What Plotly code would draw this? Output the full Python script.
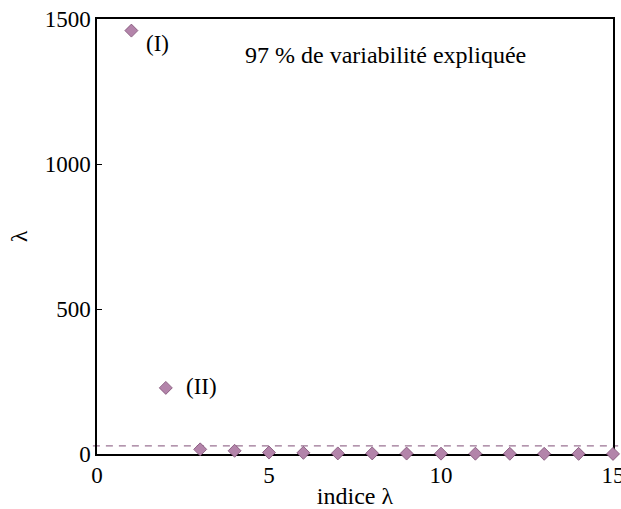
import plotly.graph_objects as go

# Eigenvalue index and eigenvalues
indices = list(range(1, 16))
eigenvalues = [1460, 228, 16, 11, 5, 4, 2, 2, 1.5, 1.2, 1, 0.8, 0.7, 0.5, 0.3]
threshold = 28

marker_fill = "#b384aa"
marker_edge = "#7d4f74"
serif = "Liberation Serif"

fig = go.Figure()

# Kaiser-style cut-off line
fig.add_shape(type="line", xref="paper", yref="y",
              x0=-0.008, x1=1.01, y0=threshold, y1=threshold,
              line=dict(color="#9a7393", width=1.2, dash="7px,6px"), layer="below")

fig.add_trace(go.Scatter(
    x=indices, y=eigenvalues, mode="markers",
    marker=dict(symbol="diamond", size=10, color=marker_fill,
                line=dict(color=marker_edge, width=0.8)),
    cliponaxis=False, showlegend=False,
))

fig.add_annotation(x=indices[0], y=eigenvalues[0], text="(I)", showarrow=False,
                   xanchor="left", yanchor="middle", xshift=13, yshift=-13,
                   font=dict(family=serif, size=23, color="black"))
fig.add_annotation(x=indices[1], y=eigenvalues[1], text="(II)", showarrow=False,
                   xanchor="left", yanchor="middle", xshift=18, yshift=1,
                   font=dict(family=serif, size=23, color="black"))
fig.add_annotation(x=0.56, y=0.917, xref="paper", yref="paper",
                   text="97 % de variabilité expliquée", showarrow=False,
                   xanchor="center", yanchor="middle",
                   font=dict(family=serif, size=24, color="black"))

axis_common = dict(showgrid=False, zeroline=False, showline=True, linecolor="black",
                   linewidth=1.5, mirror=True, ticks="inside", ticklen=5,
                   tickcolor="black", ticklabeloverflow="allow", automargin=False,
                   layer="below traces",
                   tickfont=dict(family=serif, size=23, color="black"))

fig.update_xaxes(range=[0, 15], tickvals=[0, 5, 10, 15],
                 title=dict(text="indice λ", font=dict(family=serif, size=24, color="black"),
                            standoff=2),
                 **axis_common)
fig.update_yaxes(range=[0, 1500], tickvals=[0, 500, 1000, 1500],
                 title=dict(text="λ", font=dict(family=serif, size=24, color="black"),
                            standoff=10),
                 **axis_common)

fig.update_layout(width=621, height=509, margin=dict(l=97, r=8, t=19, b=55),
                  paper_bgcolor="white", plot_bgcolor="white")

fig.write_html("out.html")
